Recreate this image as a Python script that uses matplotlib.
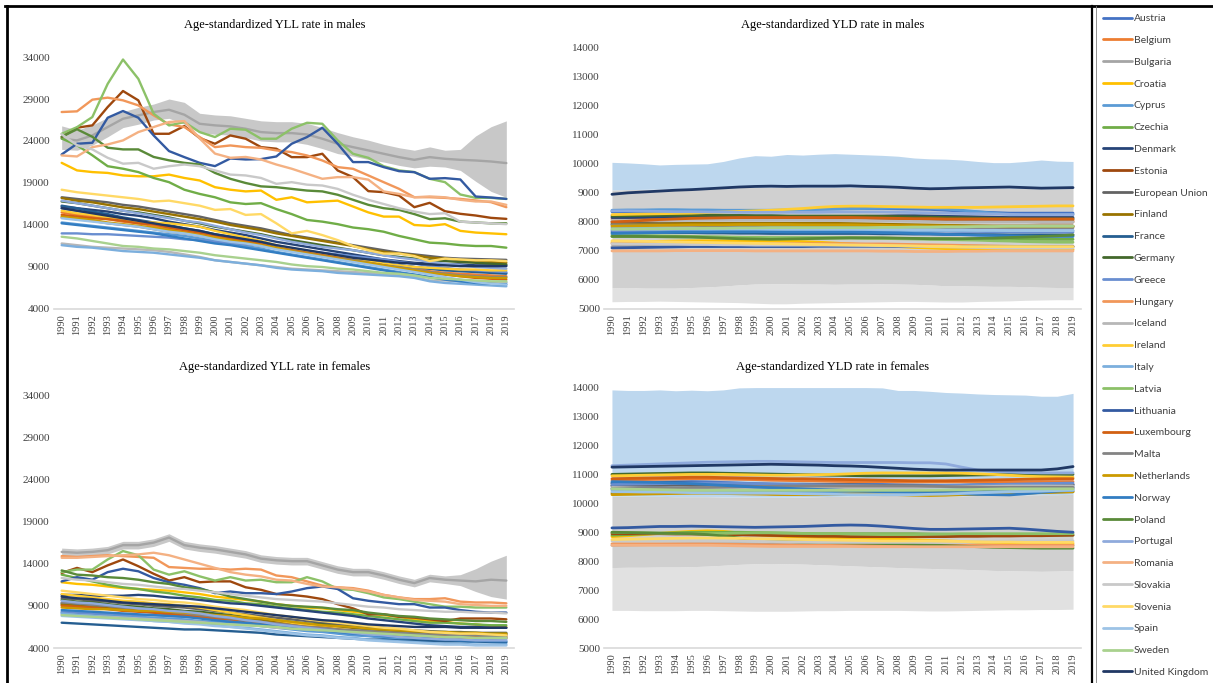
import numpy as np
import matplotlib.pyplot as plt
from matplotlib.lines import Line2D

years = list(range(1990, 2020))

countries = ["Austria", "Belgium", "Bulgaria", "Croatia", "Cyprus", "Czechia",
             "Denmark", "Estonia", "European Union", "Finland", "France",
             "Germany", "Greece", "Hungary", "Iceland", "Ireland", "Italy",
             "Latvia", "Lithuania", "Luxembourg", "Malta", "Netherlands",
             "Norway", "Poland", "Portugal", "Romania", "Slovakia", "Slovenia",
             "Spain", "Sweden", "United Kingdom"]

colors = ["#4472C4", "#ED7D31", "#A5A5A5", "#FFC000", "#5B9BD5", "#70AD47",
          "#264478", "#9E480E", "#636363", "#997300", "#255E91", "#43682B",
          "#698ED0", "#F1975A", "#B7B7B7", "#FFCD33", "#7CAFDD", "#8CC168",
          "#335AA1", "#D26012", "#848484", "#CC9A00", "#327DC2", "#5A8A39",
          "#8FAADC", "#F4B183", "#C9C9C9", "#FFD966", "#9DC3E6", "#A9D18E",
          "#203864"]

# ---- YLL, males ----
yll_males = {
    "Austria": [16000, 15700, 15400, 15100, 14800, 14500, 14100, 13800, 13500, 13200, 12800, 12500, 12200, 11900, 11500, 11200, 10900, 10600, 10300, 10000, 9700, 9400, 9200, 9000, 8800, 8700, 8600, 8500, 8400, 8300],
    "Belgium": [15500, 15200, 15000, 14700, 14400, 14200, 13900, 13600, 13300, 13000, 12700, 12400, 12100, 11800, 11400, 11100, 10800, 10500, 10200, 9900, 9600, 9300, 9000, 8800, 8500, 8300, 8200, 8100, 8000, 7900],
    "Bulgaria": [24270, 24070, 24660, 25660, 26650, 27050, 27450, 27720, 27130, 26050, 25860, 25740, 25460, 25060, 24940, 24940, 24780, 24270, 23670, 23270, 22880, 22480, 22080, 21760, 22080, 21880, 21760, 21680, 21560, 21370],
    "Croatia": [21400, 20500, 20300, 20200, 19900, 19800, 19800, 20000, 19600, 19300, 18500, 18200, 18000, 18100, 17000, 17300, 16700, 16800, 16900, 16200, 15500, 15000, 15000, 14000, 13900, 14100, 13300, 13100, 13000, 12900],
    "Cyprus": [14300, 14100, 13900, 13700, 13500, 13300, 13100, 12900, 12700, 12400, 12100, 11800, 11500, 11200, 10800, 10500, 10200, 9900, 9600, 9300, 9000, 8700, 8400, 8100, 7800, 7500, 7300, 7200, 7100, 7100],
    "Czechia": [24300, 23500, 22300, 21000, 20700, 20300, 19600, 19100, 18200, 17700, 17300, 16700, 16500, 16600, 15900, 15300, 14600, 14400, 14100, 13700, 13500, 13200, 12700, 12300, 11900, 11800, 11600, 11500, 11500, 11300],
    "Denmark": [16200, 16000, 15800, 15600, 15300, 15100, 14800, 14400, 14100, 13800, 13400, 13100, 12800, 12400, 12000, 11700, 11400, 11100, 10800, 10500, 10200, 9900, 9700, 9500, 9400, 9300, 9300, 9200, 9200, 9200],
    "Estonia": [24470, 25580, 25860, 28040, 29950, 28840, 24860, 24860, 25780, 24350, 23670, 24660, 24270, 23270, 23080, 22080, 22080, 22480, 20490, 19700, 18030, 17910, 17510, 16120, 16640, 15640, 15330, 15130, 14850, 14730],
    "European Union": [17300, 17100, 16900, 16700, 16400, 16200, 15900, 15600, 15300, 15000, 14600, 14200, 13900, 13600, 13200, 12800, 12500, 12200, 11900, 11600, 11300, 11000, 10700, 10500, 10300, 10100, 10000, 9950, 9900, 9850],
    "Finland": [17200, 16900, 16700, 16400, 16100, 15900, 15600, 15300, 15000, 14700, 14400, 14000, 13700, 13400, 13000, 12700, 12400, 12100, 11800, 11500, 11100, 10800, 10600, 10400, 10100, 10000, 9800, 9700, 9600, 9500],
    "France": [16300, 16000, 15600, 15300, 14900, 14600, 14300, 14000, 13600, 13300, 12900, 12600, 12300, 12000, 11500, 11200, 10900, 10600, 10300, 10000, 9700, 9400, 9200, 9000, 8800, 8600, 8500, 8400, 8300, 8200],
    "Germany": [16800, 16600, 16300, 16000, 15700, 15500, 15200, 14900, 14500, 14200, 13800, 13500, 13200, 12900, 12500, 12200, 11900, 11600, 11300, 11000, 10700, 10400, 10200, 10000, 9800, 9700, 9600, 9500, 9400, 9300],
    "Greece": [13000, 13000, 12900, 12900, 12800, 12700, 12600, 12500, 12300, 12200, 12000, 11900, 11700, 11600, 11300, 11100, 10900, 10700, 10500, 10300, 10100, 9900, 9600, 9400, 9100, 8900, 8700, 8600, 8500, 8400],
    "Hungary": [27450, 27530, 28920, 29160, 28840, 28240, 27050, 25980, 25660, 24470, 23270, 23470, 23270, 23190, 22880, 22680, 22280, 21680, 20890, 20690, 19900, 19100, 18310, 17310, 17310, 17230, 17110, 16920, 16720, 16120],
    "Iceland": [11800, 11600, 11400, 11300, 11200, 11100, 11000, 10800, 10500, 10200, 9800, 9600, 9400, 9200, 9000, 8800, 8700, 8600, 8500, 8400, 8300, 8100, 8000, 7800, 7400, 7400, 7300, 7300, 7200, 7200],
    "Ireland": [15700, 15400, 15200, 14900, 14600, 14400, 14300, 14200, 14000, 13800, 13300, 12900, 12500, 12100, 11600, 11200, 10900, 10600, 10300, 10000, 9700, 9400, 9200, 9000, 8900, 8800, 8700, 8700, 8600, 8600],
    "Italy": [11600, 11400, 11300, 11100, 10900, 10800, 10700, 10500, 10300, 10100, 9800, 9600, 9400, 9200, 8900, 8700, 8600, 8500, 8300, 8200, 8100, 8000, 7900, 7700, 7300, 7100, 7000, 6900, 6800, 6700],
    "Latvia": [24860, 25650, 26850, 30800, 33700, 31400, 27250, 25850, 26250, 25060, 24470, 25460, 25340, 24270, 24270, 25460, 26170, 26050, 24070, 22480, 22000, 21000, 20500, 20300, 19500, 19100, 17630, 17230, 17230, 17100],
    "Lithuania": [22400, 23670, 23790, 26770, 27570, 26770, 24660, 22800, 22080, 21400, 21010, 21920, 21800, 21840, 22160, 23670, 24470, 25580, 23670, 21490, 21490, 20890, 20410, 20290, 19500, 19580, 19420, 17390, 17270, 17110],
    "Luxembourg": [15200, 15000, 14800, 14700, 14500, 14200, 14100, 13700, 13400, 13100, 12800, 12400, 12100, 11700, 11300, 11000, 10700, 10400, 10100, 9800, 9500, 9200, 8900, 8600, 8300, 8100, 7900, 7700, 7600, 7500],
    "Malta": [14900, 14700, 14500, 14200, 14000, 13800, 13500, 13200, 13000, 12700, 12400, 12100, 11800, 11500, 11200, 10900, 10600, 10300, 10000, 9800, 9500, 9200, 9000, 8700, 8400, 8200, 8000, 7900, 7800, 7800],
    "Netherlands": [15000, 14800, 14600, 14300, 14100, 13900, 13700, 13400, 13100, 12800, 12500, 12200, 11900, 11600, 11300, 10900, 10600, 10300, 10000, 9700, 9500, 9200, 8900, 8600, 8300, 8100, 7900, 7800, 7700, 7700],
    "Norway": [14200, 14000, 13800, 13600, 13400, 13200, 13000, 12700, 12400, 12100, 11800, 11600, 11300, 11000, 10700, 10400, 10100, 9800, 9500, 9200, 8900, 8600, 8300, 8100, 7800, 7500, 7300, 7100, 7000, 6900],
    "Poland": [24500, 25400, 24500, 23200, 23000, 23000, 22100, 21700, 21400, 21200, 20200, 19500, 19000, 18600, 18500, 18300, 18100, 18000, 17600, 17000, 16400, 16000, 15800, 15300, 14700, 14800, 14400, 14300, 14200, 14200],
    "Portugal": [16900, 16600, 16300, 16000, 15700, 15400, 15100, 14800, 14500, 14300, 13900, 13500, 13100, 12800, 12400, 12000, 11700, 11400, 11200, 11000, 10700, 10400, 10100, 9900, 9600, 9400, 9200, 9000, 8900, 8800],
    "Romania": [22280, 22160, 23270, 23590, 24070, 25060, 25660, 26260, 26370, 24300, 22500, 22000, 22100, 21800, 21200, 20700, 20100, 19500, 19700, 19700, 19400, 18000, 17700, 17300, 17400, 17300, 17000, 16800, 16800, 16400],
    "Slovakia": [24800, 23500, 23000, 22000, 21300, 21400, 20700, 21000, 21200, 21000, 20500, 20000, 19900, 19600, 18900, 19100, 18800, 18700, 18300, 17600, 17000, 16500, 16000, 15600, 15300, 15400, 14400, 14300, 14200, 14100],
    "Slovenia": [18200, 17900, 17700, 17500, 17300, 17100, 16800, 16900, 16600, 16300, 15800, 15900, 15200, 15300, 14200, 13000, 13300, 12800, 12200, 11500, 11000, 10600, 10600, 10300, 9700, 10000, 9900, 9800, 9800, 9700],
    "Spain": [14800, 14600, 14400, 14200, 14000, 13800, 13500, 13200, 13000, 12700, 12300, 12000, 11800, 11500, 11100, 10800, 10500, 10200, 9900, 9600, 9300, 9000, 8700, 8400, 8100, 7800, 7500, 7200, 7000, 6900],
    "Sweden": [12600, 12400, 12100, 11800, 11500, 11400, 11200, 11100, 10900, 10700, 10400, 10200, 10000, 9800, 9600, 9300, 9100, 9000, 8800, 8700, 8500, 8300, 8200, 8000, 7700, 7600, 7500, 7400, 7300, 7300],
    "United Kingdom": [16000, 15700, 15400, 15100, 14800, 14500, 14200, 13900, 13600, 13300, 12900, 12600, 12300, 12000, 11600, 11300, 11000, 10700, 10400, 10100, 9900, 9700, 9500, 9400, 9300, 9200, 9100, 9100, 9100, 9100],
}
yll_males_ui_hi = [25800, 25300, 25900, 26800, 27500, 28000, 28400, 29000, 28600, 27300, 27100, 27000, 26700, 26400, 26300, 26300, 26100, 25600, 25000, 24500, 24100, 23600, 23200, 22900, 23300, 22900, 23000, 24600, 25700, 26400]
yll_males_ui_lo = [23000, 22900, 23500, 24500, 25600, 26000, 26500, 26700, 26000, 25000, 24800, 24700, 24400, 24000, 23900, 23900, 23600, 23100, 22500, 22200, 21800, 21500, 21100, 20800, 21000, 20900, 20500, 19200, 18000, 17300]

# ---- YLL, females ----
yll_females = {
    "Austria": [9300, 9100, 8900, 8800, 8600, 8400, 8200, 8000, 7900, 7700, 7500, 7300, 7100, 6900, 6700, 6500, 6400, 6200, 6000, 5900, 5700, 5600, 5500, 5400, 5300, 5300, 5200, 5200, 5100, 5100],
    "Belgium": [9100, 8900, 8800, 8700, 8500, 8400, 8300, 8200, 8100, 7900, 7800, 7600, 7500, 7300, 7100, 6900, 6800, 6600, 6400, 6300, 6200, 6000, 5900, 5800, 5700, 5600, 5600, 5500, 5500, 5500],
    "Bulgaria": [15400, 15300, 15400, 15600, 16200, 16200, 16500, 17100, 16200, 15900, 15700, 15400, 15100, 14600, 14400, 14300, 14300, 13800, 13300, 13000, 13000, 12600, 12100, 11700, 12300, 12100, 12000, 11900, 12100, 12000],
    "Croatia": [11800, 11600, 11500, 11300, 11100, 11000, 10900, 10800, 10600, 10400, 10100, 9900, 9700, 9500, 9200, 9000, 8800, 8700, 8500, 8300, 8100, 7900, 7700, 7400, 7200, 7100, 6900, 6800, 6600, 6500],
    "Cyprus": [8200, 8100, 8000, 7900, 7800, 7700, 7600, 7500, 7400, 7200, 7100, 6900, 6800, 6600, 6400, 6200, 6000, 5900, 5700, 5500, 5400, 5200, 5100, 5000, 4900, 4800, 4800, 4700, 4700, 4600],
    "Czechia": [12700, 12300, 11900, 11500, 11200, 11000, 10700, 10500, 10200, 10000, 9700, 9600, 9300, 9200, 8900, 8700, 8500, 8300, 8200, 8000, 7800, 7600, 7400, 7200, 7000, 7000, 6900, 6800, 6700, 6700],
    "Denmark": [10300, 10300, 10200, 10200, 10200, 10300, 10200, 10000, 9900, 9700, 9500, 9300, 9200, 9000, 8800, 8600, 8400, 8200, 8000, 7800, 7500, 7300, 7100, 6900, 6700, 6600, 6500, 6500, 6400, 6400],
    "Estonia": [12900, 13500, 13000, 13800, 14500, 13700, 12800, 12000, 12400, 11800, 11900, 11900, 11200, 10900, 10400, 10300, 10100, 9800, 9200, 8700, 8000, 8000, 7700, 7600, 7400, 7200, 7500, 7500, 7500, 7400],
    "European Union": [9900, 9800, 9600, 9500, 9300, 9200, 9000, 8900, 8800, 8600, 8400, 8200, 8000, 7800, 7600, 7400, 7200, 7000, 6800, 6700, 6500, 6400, 6200, 6100, 6000, 5900, 5900, 5800, 5800, 5800],
    "Finland": [9200, 9000, 8900, 8700, 8500, 8400, 8300, 8200, 8000, 7900, 7700, 7600, 7400, 7300, 7100, 6900, 6800, 6600, 6500, 6400, 6200, 6100, 6000, 5900, 5800, 5700, 5700, 5600, 5600, 5600],
    "France": [7000, 6900, 6800, 6700, 6600, 6500, 6400, 6300, 6200, 6200, 6100, 6000, 5900, 5800, 5600, 5500, 5400, 5300, 5200, 5100, 5000, 5000, 4900, 4900, 4800, 4800, 4800, 4800, 4700, 4700],
    "Germany": [9700, 9500, 9400, 9200, 9000, 8900, 8700, 8600, 8400, 8300, 8100, 7900, 7700, 7500, 7300, 7100, 6900, 6800, 6600, 6500, 6300, 6200, 6100, 6000, 5900, 5900, 5800, 5800, 5700, 5700],
    "Greece": [8300, 8200, 8100, 8100, 8000, 7900, 7900, 7800, 7700, 7600, 7400, 7300, 7200, 7000, 6900, 6700, 6600, 6400, 6300, 6100, 6000, 5800, 5700, 5600, 5500, 5400, 5300, 5300, 5200, 5200],
    "Hungary": [14900, 14800, 14900, 15000, 14900, 14800, 14700, 13600, 13500, 13400, 13400, 13300, 13400, 13300, 12600, 12400, 11900, 11400, 11200, 11100, 10800, 10300, 10000, 9800, 9800, 9900, 9500, 9400, 9400, 9300],
    "Iceland": [8000, 7900, 7800, 7700, 7600, 7500, 7400, 7300, 7200, 7100, 6900, 6800, 6700, 6600, 6400, 6300, 6200, 6100, 6000, 5900, 5800, 5700, 5600, 5500, 5400, 5300, 5300, 5200, 5200, 5100],
    "Ireland": [10400, 10200, 10000, 9800, 9600, 9500, 9300, 9200, 9000, 8800, 8500, 8200, 7900, 7600, 7300, 7000, 6700, 6500, 6300, 6100, 5900, 5700, 5600, 5500, 5400, 5300, 5300, 5200, 5200, 5200],
    "Italy": [8100, 7900, 7800, 7600, 7500, 7400, 7200, 7100, 7000, 6900, 6700, 6500, 6400, 6200, 6000, 5800, 5600, 5500, 5300, 5200, 5000, 4900, 4800, 4700, 4600, 4500, 4500, 4400, 4400, 4400],
    "Latvia": [13000, 13300, 13300, 14500, 15500, 15000, 13300, 12700, 13100, 12500, 12000, 12400, 12000, 12100, 11800, 11800, 12400, 11900, 11000, 10900, 10500, 10000, 9800, 9500, 9200, 8900, 8900, 8800, 8800, 8800],
    "Lithuania": [11900, 12400, 12100, 13000, 13400, 13100, 12300, 11800, 11500, 11100, 10500, 10700, 10500, 10500, 10400, 10700, 11100, 11300, 11000, 9900, 9600, 9400, 9200, 9200, 8800, 8800, 8500, 8300, 8200, 8200],
    "Luxembourg": [9000, 8900, 8800, 8600, 8400, 8300, 8200, 8000, 7900, 7700, 7500, 7400, 7200, 7000, 6900, 6700, 6500, 6400, 6200, 6000, 5900, 5800, 5700, 5600, 5500, 5400, 5400, 5300, 5300, 5300],
    "Malta": [9400, 9300, 9100, 9000, 8800, 8700, 8500, 8300, 8100, 7900, 7700, 7500, 7300, 7100, 6900, 6700, 6500, 6400, 6200, 6100, 6000, 5900, 5800, 5700, 5600, 5600, 5500, 5500, 5400, 5400],
    "Netherlands": [8800, 8700, 8600, 8600, 8500, 8400, 8400, 8300, 8200, 8100, 7900, 7800, 7600, 7500, 7300, 7100, 6900, 6700, 6600, 6500, 6300, 6200, 6100, 6000, 5900, 5900, 5800, 5800, 5700, 5700],
    "Norway": [8500, 8400, 8300, 8200, 8100, 8000, 7900, 7800, 7700, 7500, 7300, 7100, 7000, 6800, 6600, 6400, 6300, 6100, 5900, 5700, 5600, 5400, 5300, 5200, 5100, 5000, 4900, 4900, 4800, 4800],
    "Poland": [13200, 12700, 12600, 12400, 12300, 12100, 11800, 11600, 11200, 11000, 10600, 10100, 9800, 9500, 9200, 9000, 8900, 8800, 8600, 8500, 8200, 8000, 7800, 7700, 7500, 7400, 7300, 7200, 7200, 7100],
    "Portugal": [9600, 9400, 9300, 9100, 8900, 8700, 8600, 8400, 8300, 8100, 7800, 7600, 7300, 7100, 6800, 6600, 6400, 6200, 6000, 5800, 5600, 5500, 5300, 5200, 5100, 5000, 5000, 4900, 4900, 4900],
    "Romania": [14700, 14700, 14800, 14900, 15000, 15100, 15300, 15000, 14500, 14000, 13500, 13000, 12700, 12500, 12100, 12000, 11600, 11300, 11200, 11000, 10700, 10300, 10000, 9700, 9600, 9500, 9200, 9100, 9000, 9000],
    "Slovakia": [12300, 12100, 12000, 11800, 11600, 11500, 11300, 11100, 11000, 10800, 10600, 10400, 10200, 10000, 9800, 9700, 9600, 9500, 9300, 9100, 8900, 8800, 8600, 8500, 8400, 8300, 8300, 8200, 8200, 8100],
    "Slovenia": [10800, 10600, 10400, 10200, 10000, 9800, 9700, 9500, 9400, 9200, 8900, 8700, 8500, 8200, 7900, 7700, 7400, 7200, 7000, 6800, 6600, 6400, 6300, 6100, 5900, 5800, 5700, 5700, 5600, 5500],
    "Spain": [7800, 7700, 7600, 7500, 7400, 7300, 7200, 7100, 6900, 6800, 6600, 6500, 6300, 6100, 5900, 5700, 5500, 5400, 5200, 5100, 4900, 4800, 4700, 4600, 4500, 4400, 4400, 4300, 4300, 4300],
    "Sweden": [7900, 7800, 7700, 7600, 7500, 7400, 7300, 7200, 7100, 7000, 6900, 6800, 6700, 6600, 6500, 6300, 6200, 6100, 6000, 5900, 5800, 5700, 5600, 5500, 5400, 5300, 5300, 5200, 5200, 5200],
    "United Kingdom": [10100, 9900, 9800, 9600, 9400, 9300, 9200, 9100, 9000, 8900, 8700, 8500, 8300, 8100, 7900, 7700, 7500, 7300, 7200, 7000, 6800, 6700, 6600, 6500, 6500, 6500, 6400, 6400, 6400, 6400],
}
yll_females_ui_hi = [15850, 15750, 15850, 16050, 16650, 16650, 16950, 17550, 16650, 16350, 16150, 15850, 15550, 15050, 14850, 14750, 14750, 14250, 13750, 13450, 13450, 13050, 12550, 12150, 12750, 12550, 12700, 13400, 14300, 15000]
yll_females_ui_lo = [14950, 14850, 14950, 15150, 15750, 15750, 16050, 16650, 15750, 15450, 15250, 14950, 14650, 14150, 13950, 13850, 13850, 13350, 12850, 12550, 12550, 12150, 11650, 11250, 11850, 11650, 11400, 10700, 10100, 9800]

# ---- YLD, males ----
yld_males = {
    "Austria": [8350, 8350, 8340, 8340, 8330, 8330, 8340, 8350, 8360, 8370, 8380, 8400, 8420, 8440, 8450, 8460, 8460, 8460, 8450, 8440, 8430, 8400, 8370, 8340, 8320, 8300, 8300, 8300, 8300, 8300],
    "Belgium": [8100, 8110, 8120, 8130, 8140, 8150, 8150, 8150, 8160, 8160, 8160, 8160, 8160, 8150, 8150, 8150, 8150, 8140, 8130, 8120, 8110, 8100, 8090, 8080, 8070, 8060, 8050, 8050, 8050, 8050],
    "Bulgaria": [7150, 7150, 7160, 7160, 7170, 7170, 7180, 7180, 7190, 7190, 7200, 7200, 7200, 7200, 7200, 7200, 7190, 7190, 7180, 7180, 7170, 7170, 7160, 7160, 7150, 7150, 7150, 7150, 7150, 7150],
    "Croatia": [7300, 7310, 7320, 7330, 7340, 7350, 7350, 7350, 7350, 7350, 7350, 7340, 7320, 7300, 7270, 7240, 7210, 7180, 7150, 7120, 7100, 7080, 7070, 7060, 7050, 7050, 7050, 7050, 7050, 7050],
    "Cyprus": [8400, 8410, 8410, 8420, 8420, 8410, 8410, 8400, 8400, 8400, 8400, 8410, 8420, 8430, 8440, 8450, 8460, 8470, 8480, 8480, 8470, 8440, 8400, 8350, 8300, 8260, 8250, 8250, 8250, 8250],
    "Czechia": [7500, 7500, 7490, 7490, 7480, 7480, 7470, 7470, 7460, 7460, 7450, 7450, 7450, 7450, 7450, 7450, 7440, 7440, 7430, 7430, 7420, 7420, 7410, 7410, 7400, 7400, 7400, 7400, 7400, 7400],
    "Denmark": [8150, 8150, 8160, 8170, 8180, 8190, 8200, 8210, 8210, 8200, 8200, 8190, 8180, 8180, 8180, 8180, 8190, 8200, 8210, 8210, 8200, 8190, 8180, 8170, 8160, 8150, 8150, 8150, 8150, 8150],
    "Estonia": [8000, 8020, 8040, 8060, 8080, 8090, 8100, 8100, 8110, 8110, 8110, 8110, 8100, 8100, 8100, 8100, 8100, 8100, 8090, 8080, 8070, 8060, 8050, 8040, 8030, 8020, 8010, 8000, 8000, 8000],
    "European Union": [7950, 7950, 7950, 7940, 7940, 7930, 7930, 7920, 7920, 7910, 7910, 7900, 7900, 7900, 7890, 7890, 7880, 7880, 7870, 7870, 7860, 7860, 7850, 7850, 7850, 7850, 7850, 7850, 7850, 7850],
    "Finland": [7900, 7910, 7920, 7930, 7940, 7950, 7950, 7950, 7950, 7950, 7950, 7950, 7950, 7950, 7950, 7940, 7930, 7920, 7910, 7900, 7890, 7880, 7870, 7860, 7850, 7850, 7850, 7850, 7850, 7850],
    "France": [7650, 7650, 7640, 7640, 7630, 7630, 7620, 7620, 7610, 7610, 7600, 7600, 7600, 7600, 7600, 7600, 7600, 7590, 7590, 7580, 7580, 7570, 7570, 7560, 7560, 7550, 7550, 7550, 7550, 7550],
    "Germany": [8200, 8210, 8220, 8230, 8230, 8230, 8230, 8220, 8220, 8210, 8210, 8200, 8200, 8200, 8200, 8200, 8200, 8190, 8180, 8170, 8160, 8150, 8140, 8130, 8120, 8110, 8100, 8100, 8100, 8100],
    "Greece": [7700, 7700, 7700, 7700, 7700, 7700, 7700, 7710, 7710, 7710, 7710, 7710, 7710, 7700, 7700, 7700, 7700, 7700, 7690, 7690, 7680, 7680, 7670, 7670, 7660, 7660, 7650, 7650, 7650, 7650],
    "Hungary": [7250, 7250, 7250, 7260, 7260, 7260, 7260, 7260, 7250, 7250, 7250, 7250, 7250, 7250, 7250, 7250, 7240, 7240, 7230, 7220, 7210, 7200, 7190, 7180, 7170, 7160, 7150, 7150, 7150, 7150],
    "Iceland": [8050, 8050, 8050, 8050, 8050, 8050, 8060, 8060, 8060, 8060, 8060, 8060, 8060, 8050, 8050, 8050, 8050, 8040, 8030, 8020, 8010, 8000, 8000, 8000, 8000, 8000, 8000, 8000, 8000, 8000],
    "Ireland": [8250, 8260, 8270, 8280, 8290, 8300, 8320, 8340, 8360, 8380, 8400, 8430, 8460, 8500, 8530, 8540, 8540, 8530, 8520, 8510, 8500, 8500, 8500, 8500, 8510, 8520, 8530, 8540, 8550, 8550],
    "Italy": [7800, 7790, 7780, 7770, 7760, 7750, 7740, 7730, 7720, 7710, 7700, 7700, 7700, 7700, 7700, 7700, 7700, 7700, 7700, 7700, 7700, 7700, 7700, 7700, 7700, 7700, 7700, 7700, 7700, 7700],
    "Latvia": [7550, 7540, 7530, 7520, 7510, 7500, 7490, 7480, 7470, 7460, 7450, 7450, 7450, 7450, 7450, 7450, 7440, 7430, 7420, 7410, 7400, 7390, 7380, 7370, 7350, 7340, 7320, 7310, 7300, 7300],
    "Lithuania": [7100, 7110, 7120, 7130, 7140, 7150, 7150, 7150, 7150, 7150, 7150, 7150, 7150, 7160, 7160, 7160, 7160, 7160, 7150, 7150, 7150, 7150, 7150, 7150, 7150, 7150, 7150, 7150, 7150, 7150],
    "Luxembourg": [8000, 8020, 8050, 8080, 8100, 8120, 8130, 8140, 8150, 8150, 8150, 8150, 8150, 8150, 8150, 8150, 8140, 8130, 8120, 8110, 8110, 8100, 8100, 8100, 8100, 8100, 8100, 8100, 8100, 8100],
    "Malta": [7900, 7900, 7890, 7890, 7880, 7880, 7870, 7870, 7860, 7860, 7850, 7850, 7850, 7840, 7840, 7830, 7830, 7820, 7820, 7810, 7810, 7800, 7800, 7800, 7800, 7800, 7800, 7800, 7800, 7800],
    "Netherlands": [7850, 7860, 7870, 7880, 7890, 7900, 7900, 7900, 7910, 7910, 7910, 7910, 7900, 7900, 7900, 7900, 7890, 7880, 7870, 7870, 7860, 7860, 7850, 7850, 7850, 7850, 7850, 7850, 7850, 7850],
    "Norway": [7600, 7610, 7620, 7630, 7640, 7650, 7650, 7660, 7660, 7660, 7660, 7650, 7650, 7650, 7650, 7650, 7640, 7630, 7620, 7600, 7590, 7570, 7560, 7540, 7530, 7520, 7510, 7500, 7500, 7500],
    "Poland": [7500, 7500, 7500, 7490, 7490, 7480, 7460, 7440, 7420, 7410, 7400, 7410, 7420, 7430, 7440, 7450, 7450, 7450, 7440, 7430, 7420, 7420, 7420, 7430, 7440, 7460, 7480, 7500, 7520, 7550],
    "Portugal": [8380, 8380, 8370, 8360, 8350, 8350, 8340, 8340, 8330, 8330, 8330, 8330, 8330, 8330, 8340, 8340, 8340, 8340, 8330, 8320, 8310, 8300, 8290, 8280, 8270, 8260, 8250, 8250, 8250, 8250],
    "Romania": [7000, 7000, 7000, 7000, 7010, 7010, 7010, 7010, 7010, 7000, 7000, 7000, 7000, 7000, 7000, 7000, 7000, 6990, 6990, 6980, 6980, 6980, 6990, 6990, 7000, 7000, 7000, 7000, 7000, 7000],
    "Slovakia": [7250, 7240, 7240, 7230, 7230, 7220, 7220, 7210, 7210, 7200, 7200, 7200, 7200, 7200, 7200, 7200, 7190, 7180, 7170, 7160, 7150, 7140, 7130, 7120, 7110, 7100, 7100, 7100, 7100, 7100],
    "Slovenia": [7350, 7340, 7330, 7320, 7310, 7300, 7290, 7280, 7270, 7260, 7250, 7240, 7230, 7220, 7210, 7200, 7200, 7190, 7180, 7170, 7160, 7160, 7150, 7150, 7150, 7150, 7150, 7150, 7150, 7150],
    "Spain": [7750, 7750, 7750, 7750, 7760, 7760, 7760, 7760, 7760, 7760, 7750, 7750, 7750, 7750, 7750, 7750, 7750, 7740, 7740, 7730, 7730, 7720, 7720, 7710, 7710, 7700, 7700, 7700, 7700, 7700],
    "Sweden": [7750, 7750, 7760, 7760, 7770, 7770, 7780, 7780, 7790, 7790, 7800, 7800, 7800, 7800, 7800, 7800, 7800, 7810, 7810, 7820, 7820, 7830, 7830, 7840, 7840, 7850, 7850, 7850, 7850, 7850],
    "United Kingdom": [8950, 9000, 9030, 9060, 9090, 9110, 9140, 9170, 9200, 9220, 9230, 9220, 9230, 9230, 9230, 9240, 9220, 9210, 9190, 9160, 9140, 9150, 9170, 9180, 9190, 9200, 9180, 9160, 9170, 9180],
}
yld_males_blue_hi = [10050, 10030, 10000, 9960, 9980, 9990, 10000, 10080, 10200, 10280, 10260, 10320, 10300, 10330, 10350, 10330, 10310, 10290, 10260, 10200, 10170, 10160, 10130, 10080, 10040, 10040, 10080, 10130, 10090, 10080]
yld_males_grey_hi = [9100, 9110, 9120, 9130, 9140, 9150, 9160, 9170, 9180, 9190, 9190, 9190, 9190, 9190, 9190, 9190, 9190, 9180, 9170, 9150, 9130, 9140, 9150, 9150, 9160, 9160, 9150, 9140, 9140, 9150]
yld_males_grey_lo = [5730, 5740, 5720, 5720, 5720, 5740, 5760, 5790, 5830, 5860, 5870, 5870, 5860, 5860, 5850, 5860, 5860, 5870, 5860, 5850, 5830, 5800, 5800, 5790, 5780, 5780, 5770, 5750, 5740, 5740]
yld_males_pale_lo = [5250, 5260, 5260, 5270, 5260, 5250, 5240, 5230, 5220, 5200, 5180, 5180, 5200, 5210, 5220, 5230, 5240, 5250, 5260, 5260, 5250, 5240, 5240, 5260, 5270, 5280, 5300, 5310, 5320, 5320]

# ---- YLD, females ----
yld_females = {
    "Austria": [10700, 10710, 10720, 10730, 10740, 10750, 10740, 10720, 10700, 10680, 10660, 10650, 10650, 10650, 10650, 10650, 10650, 10650, 10640, 10630, 10620, 10610, 10600, 10600, 10600, 10600, 10600, 10600, 10600, 10600],
    "Belgium": [10800, 10810, 10820, 10830, 10840, 10850, 10850, 10840, 10830, 10820, 10800, 10790, 10780, 10770, 10760, 10750, 10750, 10750, 10740, 10740, 10740, 10740, 10740, 10740, 10740, 10740, 10740, 10750, 10750, 10750],
    "Bulgaria": [8550, 8560, 8570, 8580, 8590, 8600, 8600, 8600, 8600, 8590, 8580, 8570, 8560, 8560, 8560, 8560, 8560, 8560, 8560, 8560, 8550, 8550, 8550, 8550, 8550, 8550, 8550, 8550, 8550, 8550],
    "Croatia": [8850, 8880, 8920, 8960, 9000, 9030, 9050, 9030, 8980, 8920, 8880, 8850, 8830, 8810, 8800, 8800, 8790, 8780, 8760, 8740, 8720, 8700, 8680, 8660, 8650, 8640, 8630, 8620, 8610, 8600],
    "Cyprus": [10500, 10490, 10480, 10470, 10460, 10450, 10440, 10430, 10420, 10410, 10400, 10390, 10380, 10370, 10360, 10350, 10350, 10350, 10350, 10350, 10360, 10370, 10380, 10390, 10400, 10420, 10440, 10460, 10480, 10500],
    "Czechia": [8900, 8920, 8940, 8960, 8980, 9000, 9000, 9000, 9000, 8990, 8980, 8970, 8960, 8950, 8950, 8950, 8950, 8950, 8950, 8950, 8940, 8930, 8920, 8910, 8900, 8900, 8900, 8900, 8900, 8900],
    "Denmark": [10600, 10610, 10620, 10630, 10640, 10650, 10650, 10650, 10640, 10630, 10620, 10610, 10600, 10600, 10600, 10600, 10600, 10600, 10600, 10600, 10600, 10610, 10620, 10630, 10640, 10650, 10650, 10650, 10650, 10650],
    "Estonia": [8950, 8950, 8950, 8950, 8940, 8940, 8930, 8920, 8910, 8900, 8890, 8880, 8870, 8860, 8860, 8850, 8850, 8850, 8850, 8850, 8850, 8850, 8860, 8860, 8870, 8870, 8880, 8880, 8890, 8900],
    "European Union": [10620, 10620, 10630, 10630, 10640, 10640, 10650, 10650, 10660, 10660, 10660, 10660, 10660, 10650, 10650, 10640, 10630, 10620, 10610, 10600, 10600, 10610, 10620, 10630, 10640, 10650, 10650, 10650, 10650, 10650],
    "Finland": [10350, 10360, 10370, 10380, 10390, 10400, 10400, 10390, 10370, 10350, 10330, 10310, 10300, 10300, 10300, 10300, 10300, 10300, 10300, 10300, 10300, 10300, 10310, 10320, 10330, 10340, 10350, 10370, 10390, 10400],
    "France": [10700, 10710, 10720, 10720, 10710, 10700, 10680, 10640, 10580, 10530, 10500, 10480, 10470, 10460, 10450, 10450, 10440, 10430, 10430, 10430, 10440, 10450, 10460, 10470, 10480, 10500, 10510, 10520, 10540, 10550],
    "Germany": [11000, 11010, 11020, 11030, 11040, 11050, 11050, 11040, 11030, 11020, 11010, 11000, 10990, 10980, 10970, 10960, 10950, 10950, 10950, 10950, 10950, 10960, 10970, 10980, 10990, 11000, 11000, 11000, 11000, 11000],
    "Greece": [10650, 10660, 10670, 10680, 10690, 10700, 10700, 10700, 10690, 10680, 10670, 10660, 10650, 10640, 10630, 10620, 10610, 10600, 10600, 10600, 10610, 10620, 10630, 10640, 10650, 10660, 10670, 10680, 10690, 10700],
    "Hungary": [8600, 8600, 8600, 8600, 8600, 8600, 8600, 8590, 8580, 8570, 8560, 8560, 8560, 8560, 8560, 8560, 8550, 8550, 8550, 8550, 8550, 8550, 8550, 8550, 8550, 8550, 8550, 8550, 8550, 8550],
    "Iceland": [10550, 10540, 10530, 10520, 10510, 10500, 10500, 10500, 10500, 10500, 10500, 10510, 10520, 10530, 10540, 10550, 10550, 10550, 10550, 10550, 10560, 10570, 10580, 10590, 10590, 10600, 10600, 10600, 10600, 10600],
    "Ireland": [10950, 10960, 10970, 10980, 10990, 11000, 11000, 11000, 10990, 10980, 10970, 10970, 10980, 10990, 11000, 11020, 11040, 11050, 11050, 11050, 11050, 11050, 11040, 11020, 11000, 10970, 10940, 10920, 10910, 10900],
    "Italy": [10450, 10440, 10430, 10420, 10410, 10400, 10390, 10380, 10370, 10360, 10350, 10340, 10330, 10320, 10310, 10300, 10300, 10300, 10300, 10300, 10310, 10330, 10350, 10370, 10390, 10410, 10430, 10450, 10480, 10500],
    "Latvia": [9000, 8990, 8980, 8970, 8960, 8950, 8950, 8960, 8970, 8980, 8980, 8970, 8960, 8950, 8950, 8940, 8930, 8920, 8920, 8920, 8930, 8940, 8950, 8950, 8950, 8950, 8950, 8950, 8950, 8950],
    "Lithuania": [9150, 9160, 9180, 9200, 9200, 9210, 9200, 9190, 9180, 9170, 9180, 9190, 9200, 9220, 9240, 9250, 9240, 9210, 9170, 9130, 9100, 9100, 9110, 9120, 9130, 9140, 9110, 9070, 9030, 9000],
    "Luxembourg": [10850, 10860, 10870, 10880, 10890, 10900, 10900, 10890, 10880, 10870, 10860, 10850, 10850, 10840, 10830, 10820, 10810, 10800, 10790, 10780, 10780, 10780, 10790, 10800, 10810, 10820, 10830, 10840, 10850, 10850],
    "Malta": [10500, 10510, 10520, 10530, 10540, 10550, 10550, 10560, 10570, 10580, 10590, 10600, 10600, 10600, 10600, 10600, 10600, 10600, 10600, 10600, 10590, 10580, 10570, 10560, 10550, 10550, 10550, 10550, 10550, 10550],
    "Netherlands": [10300, 10310, 10320, 10330, 10340, 10350, 10350, 10340, 10330, 10320, 10310, 10300, 10300, 10300, 10310, 10320, 10330, 10320, 10300, 10280, 10270, 10280, 10300, 10320, 10340, 10360, 10370, 10380, 10390, 10400],
    "Norway": [10750, 10740, 10730, 10720, 10700, 10680, 10650, 10620, 10590, 10560, 10540, 10520, 10500, 10480, 10460, 10440, 10420, 10400, 10380, 10360, 10350, 10340, 10330, 10310, 10300, 10290, 10330, 10380, 10420, 10450],
    "Poland": [9000, 8990, 8980, 8970, 8960, 8950, 8920, 8870, 8800, 8740, 8700, 8680, 8660, 8650, 8640, 8630, 8620, 8610, 8600, 8580, 8560, 8540, 8520, 8500, 8480, 8470, 8460, 8450, 8450, 8450],
    "Portugal": [11300, 11320, 11340, 11360, 11380, 11400, 11420, 11430, 11440, 11450, 11450, 11440, 11430, 11420, 11410, 11410, 11410, 11410, 11410, 11400, 11400, 11360, 11250, 11150, 11100, 11080, 11060, 11050, 11050, 11050],
    "Romania": [8550, 8550, 8550, 8550, 8550, 8550, 8550, 8540, 8530, 8520, 8510, 8510, 8510, 8510, 8510, 8510, 8500, 8500, 8500, 8500, 8500, 8500, 8500, 8500, 8500, 8500, 8500, 8500, 8500, 8500],
    "Slovakia": [8700, 8700, 8700, 8700, 8700, 8700, 8700, 8700, 8700, 8690, 8680, 8670, 8660, 8650, 8650, 8650, 8650, 8650, 8650, 8650, 8650, 8660, 8670, 8680, 8690, 8700, 8700, 8700, 8700, 8700],
    "Slovenia": [8750, 8760, 8770, 8780, 8790, 8800, 8800, 8800, 8790, 8780, 8770, 8760, 8750, 8740, 8730, 8720, 8710, 8700, 8700, 8700, 8700, 8690, 8680, 8670, 8660, 8660, 8650, 8650, 8650, 8650],
    "Spain": [10400, 10400, 10390, 10390, 10380, 10370, 10360, 10350, 10350, 10350, 10350, 10340, 10330, 10320, 10310, 10300, 10300, 10300, 10300, 10300, 10310, 10320, 10340, 10360, 10380, 10400, 10410, 10420, 10440, 10450],
    "Sweden": [10500, 10490, 10480, 10470, 10460, 10450, 10450, 10450, 10450, 10450, 10450, 10450, 10450, 10450, 10450, 10450, 10450, 10450, 10450, 10450, 10450, 10460, 10470, 10480, 10490, 10500, 10500, 10500, 10500, 10500],
    "United Kingdom": [11250, 11260, 11270, 11280, 11290, 11300, 11310, 11320, 11330, 11340, 11350, 11340, 11330, 11320, 11300, 11290, 11270, 11240, 11210, 11180, 11160, 11150, 11150, 11150, 11150, 11150, 11150, 11150, 11190, 11270],
}
yld_females_blue_hi = [13920, 13900, 13900, 13920, 13890, 13910, 13890, 13920, 13990, 14000, 14000, 14000, 14000, 14000, 14000, 14000, 14000, 13990, 13900, 13900, 13870, 13830, 13810, 13780, 13760, 13750, 13740, 13700, 13700, 13800]
yld_females_grey_hi = [10250, 10250, 10240, 10240, 10230, 10230, 10230, 10220, 10220, 10210, 10210, 10210, 10220, 10230, 10240, 10250, 10260, 10270, 10270, 10260, 10250, 10250, 10260, 10270, 10280, 10290, 10290, 10300, 10300, 10310]
yld_females_grey_lo = [7780, 7790, 7790, 7800, 7800, 7810, 7830, 7860, 7890, 7910, 7920, 7910, 7900, 7880, 7860, 7840, 7820, 7800, 7780, 7760, 7750, 7730, 7720, 7700, 7680, 7670, 7660, 7650, 7660, 7680]
yld_females_pale_lo = [6300, 6300, 6290, 6290, 6290, 6300, 6300, 6290, 6280, 6270, 6270, 6270, 6280, 6290, 6290, 6300, 6300, 6300, 6300, 6290, 6280, 6280, 6290, 6300, 6310, 6320, 6320, 6330, 6330, 6340]

W, H = 1213, 683
SERIF = "Liberation Serif"


def box(left, top, right, bottom):
    # pixel box -> figure fraction rect
    return [left / W, 1 - bottom / H, (right - left) / W, (bottom - top) / H]


def setup(ax, title, ylim, yticks, title_pad):
    x = np.arange(len(years))
    ax.set_xlim(-0.5, len(years) - 0.5)
    ax.set_ylim(*ylim)
    ax.set_xticks(x)
    ax.set_xticklabels([str(y) for y in years], rotation=90,
                       fontsize=7.5, family=SERIF, color="#404040")
    ax.set_yticks(yticks)
    ax.set_yticklabels([str(v) for v in yticks], fontsize=8, family=SERIF,
                       color="#404040")
    ax.tick_params(length=0, pad=3)
    ax.tick_params(axis="x", pad=4)
    for s in ["top", "right", "left"]:
        ax.spines[s].set_visible(False)
    ax.spines["bottom"].set_color("#D9D9D9")
    ax.spines["bottom"].set_linewidth(1.2)
    ax.set_title(title, fontsize=9, family=SERIF, pad=title_pad, x=0.48)


def draw_lines(ax, data, lw):
    x = np.arange(len(years))
    handles = []
    for i, name in enumerate(countries):
        h, = ax.plot(x, data[name], color=colors[i], lw=lw, zorder=3 + i * 0.01,
                     solid_joinstyle="round", solid_capstyle="round")
        handles.append(h)
    return handles


fig = plt.figure(figsize=(W / 100, H / 100), dpi=100)
fig.patch.set_facecolor("white")

ax_tl = fig.add_axes(box(54, 36, 514, 309))
ax_tr = fig.add_axes(box(604, 36, 1081, 309))
ax_bl = fig.add_axes(box(54, 374, 514, 648))
ax_br = fig.add_axes(box(604, 376, 1081, 648))

xs = np.arange(len(years))
yll_ticks = list(range(4000, 36000, 5000))
yld_ticks = list(range(5000, 15000, 1000))

# YLL males
ax_tl.fill_between(xs, yll_males_ui_lo, yll_males_ui_hi, color="#C8C8C8",
                   lw=0, zorder=1)
handles = draw_lines(ax_tl, yll_males, 1.7)
setup(ax_tl, "Age-standardized YLL rate in males", (4000, 36500), yll_ticks, 6)

# YLL females
ax_bl.fill_between(xs, yll_females_ui_lo, yll_females_ui_hi, color="#C8C8C8",
                   lw=0, zorder=1)
draw_lines(ax_bl, yll_females, 1.7)
setup(ax_bl, "Age-standardized YLL rate in females", (4000, 36500), yll_ticks, 3)

# YLD males
ax_tr.fill_between(xs, yld_males_pale_lo, yld_males_grey_lo, color="#E1E1E1",
                   lw=0, zorder=1)
ax_tr.fill_between(xs, yld_males_grey_lo, yld_males_grey_hi, color="#D0D0D0",
                   lw=0, zorder=1)
ax_tr.fill_between(xs, yld_males_grey_hi, yld_males_blue_hi, color="#BDD7EE",
                   lw=0, zorder=1)
draw_lines(ax_tr, yld_males, 2.0)
setup(ax_tr, "Age-standardized YLD rate in males", (5000, 14400), yld_ticks, 6)

# YLD females
ax_br.fill_between(xs, yld_females_pale_lo, yld_females_grey_lo, color="#E1E1E1",
                   lw=0, zorder=1)
ax_br.fill_between(xs, yld_females_grey_lo, yld_females_grey_hi, color="#D0D0D0",
                   lw=0, zorder=1)
ax_br.fill_between(xs, yld_females_grey_hi, yld_females_blue_hi, color="#BDD7EE",
                   lw=0, zorder=1)
draw_lines(ax_br, yld_females, 2.0)
setup(ax_br, "Age-standardized YLD rate in females", (5000, 14400), yld_ticks, 4)

# legend column on the right
leg = fig.legend(handles, countries, loc="upper left",
                 bbox_to_anchor=(1103 / W, 1 - 14 / H), frameon=False,
                 prop={"family": "Lato", "size": 7.5}, handlelength=2.8,
                 handletextpad=0.15, labelspacing=1.2, borderaxespad=0,
                 borderpad=0, labelcolor="#404040")
for lh in leg.get_lines():
    lh.set_linewidth(2)

# outer frame
frame = dict(transform=fig.transFigure, color="black")
fig.add_artist(Line2D([5 / W, 1], [1 - 6 / H, 1 - 6 / H], lw=2, **frame))
fig.add_artist(Line2D([7 / W, 7 / W], [0, 1 - 6 / H], lw=2, **frame))
fig.add_artist(Line2D([1092 / W, 1092 / W], [0, 1 - 6 / H], lw=1.6, **frame))
fig.add_artist(Line2D([1096 / W, 1096 / W], [0, 1 - 6 / H], lw=0.6,
                      transform=fig.transFigure, color="#808080"))

fig.savefig("out.png", dpi=100)
